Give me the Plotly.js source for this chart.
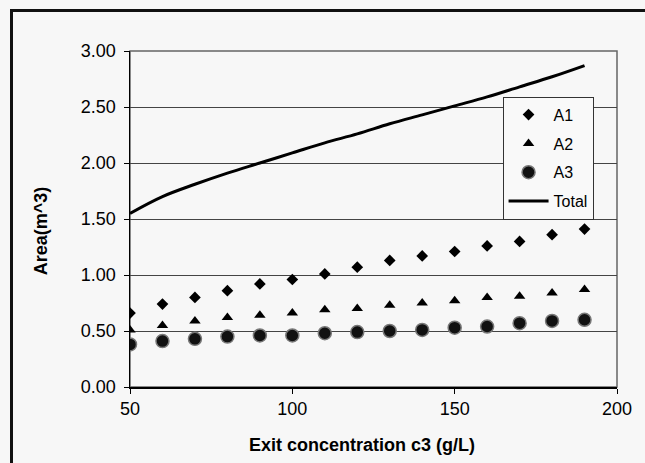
<!DOCTYPE html>
<html>
<head>
<meta charset="utf-8">
<script src="https://cdn.plot.ly/plotly-3.0.1.min.js"></script>
<style>
  html, body { margin: 0; padding: 0; background: #f7f7f7; }
  #wrap { position: relative; width: 645px; height: 463px; overflow: hidden; }
  #chart { width: 645px; height: 463px; }
  #frame { position: absolute; left: 10px; top: 9px; width: 700px; height: 520px;
           border: 3px solid #111; pointer-events: none; box-sizing: border-box; }
</style>
</head>
<body>
<div id="wrap">
  <div id="chart"></div>
  <div id="frame"></div>
</div>
<script>
const conc = [50, 60, 70, 80, 90, 100, 110, 120, 130, 140, 150, 160, 170, 180, 190];
const areaA1 = [0.66, 0.74, 0.80, 0.86, 0.92, 0.96, 1.01, 1.07, 1.13, 1.17, 1.21, 1.26, 1.30, 1.36, 1.41];
const areaA2 = [0.51, 0.55, 0.59, 0.62, 0.64, 0.66, 0.69, 0.70, 0.73, 0.75, 0.77, 0.80, 0.81, 0.84, 0.87];
const areaA3 = [0.38, 0.41, 0.43, 0.45, 0.46, 0.46, 0.48, 0.49, 0.50, 0.51, 0.53, 0.54, 0.57, 0.59, 0.60];
const areaTotal = [1.55, 1.70, 1.81, 1.91, 2.00, 2.09, 2.18, 2.26, 2.35, 2.43, 2.51, 2.59, 2.68, 2.77, 2.87];
const seriesNames = ['A1', 'A2', 'A3', 'Total'];
const xTicks = [50, 100, 150, 200];
const yTicks = [0, 0.5, 1.0, 1.5, 2.0, 2.5, 3.0];
const yTickText = ['0.00', '0.50', '1.00', '1.50', '2.00', '2.50', '3.00'];
const xTitle = 'Exit concentration c3 (g/L)';
const yTitle = 'Area(m^3)';

const font = '"Liberation Sans", Arial, sans-serif';

const traces = [
  { x: conc, y: areaA1, name: seriesNames[0], mode: 'markers', type: 'scatter', legendgroup: 'g1',
    marker: { symbol: 'diamond', size: 9, color: '#000' } },
  { x: conc, y: areaA2, name: seriesNames[1], mode: 'markers', type: 'scatter', legendgroup: 'g2',
    marker: { symbol: 'triangle-up', size: 10, color: '#000' } },
  { x: conc, y: areaA3, name: seriesNames[2], mode: 'markers', type: 'scatter', legendgroup: 'g3',
    marker: { symbol: 'circle', size: 13, color: '#111', line: { color: '#777', width: 1.5 } } },
  { x: conc, y: areaTotal, name: seriesNames[3], mode: 'lines', type: 'scatter', legendgroup: 'g4',
    line: { color: '#000', width: 3, shape: 'spline' } }
];

const layout = {
  width: 645, height: 463,
  margin: { l: 130, r: 28, t: 51, b: 76 },
  paper_bgcolor: '#f7f7f7',
  plot_bgcolor: '#f7f7f7',
  font: { family: font, size: 16, color: '#000' },
  showlegend: true,
  legend: {
    x: 0.765, y: 0.864, xanchor: 'left', yanchor: 'top',
    bgcolor: '#f9f9f9', bordercolor: '#333', borderwidth: 1,
    font: { family: font, size: 16, color: '#000' },
    traceorder: 'grouped', tracegroupgap: 5,
    itemwidth: 40
  },
  xaxis: {
    range: [50, 200], tickvals: xTicks, ticktext: xTicks.map(String),
    showgrid: false, zeroline: false,
    showline: true, linecolor: '#000', linewidth: 1.5,
    ticks: 'outside', ticklen: 5, tickcolor: '#000',
    tickfont: { family: font, size: 18, color: '#000' }
  },
  yaxis: {
    range: [0, 3.0], tickvals: yTicks, ticktext: yTickText,
    showgrid: true, gridcolor: '#444', gridwidth: 1, zeroline: false,
    showline: true, linecolor: '#000', linewidth: 1.5,
    ticks: 'outside', ticklen: 5, tickcolor: '#000', ticklabelstandoff: 4,
    tickfont: { family: font, size: 18, color: '#000' }
  },
  annotations: [
    { text: '<b>' + xTitle + '</b>', xref: 'paper', yref: 'paper', x: 0.477, y: -0.174,
      xanchor: 'center', yanchor: 'middle', showarrow: false,
      font: { family: font, size: 18, color: '#000' } },
    { text: '<b>' + yTitle + '</b>', xref: 'paper', yref: 'paper', x: -0.181, y: 0.466,
      xanchor: 'center', yanchor: 'middle', showarrow: false, textangle: -90,
      font: { family: font, size: 18, color: '#000' } }
  ],
  shapes: [
    { type: 'rect', xref: 'paper', yref: 'paper', x0: 0, x1: 1, y0: 0, y1: 1,
      line: { color: '#666', width: 1.5 }, layer: 'below' }
  ]
};

Plotly.newPlot('chart', traces, layout, { displayModeBar: false, staticPlot: true });
</script>
</body>
</html>
